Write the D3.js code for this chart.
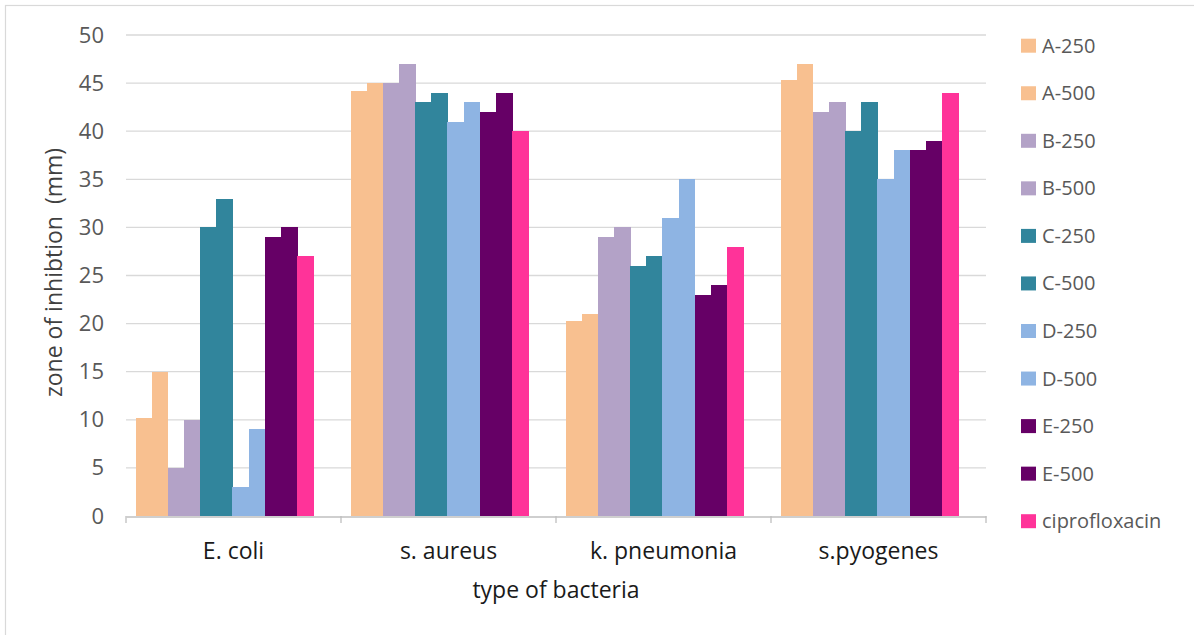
<!DOCTYPE html>
<html lang="en">
<head>
  <meta charset="UTF-8">
  <title>zone of inhibition</title>
  <script src="https://cdn.jsdelivr.net/npm/d3@7"></script>
  <style>
    body { margin: 0; background: #fff; }
    text { font-family: "Open Sans", sans-serif; }
  </style>
</head>
<body>
  <script>
    const bacteria = ["E. coli", "s. aureus", "k. pneumonia", "s.pyogenes"];
    const seriesNames = ["A-250", "A-500", "B-250", "B-500", "C-250", "C-500",
                         "D-250", "D-500", "E-250", "E-500", "ciprofloxacin"];
    const seriesColors = ["#f8c090", "#f8c090", "#b3a2c7", "#b3a2c7", "#31859c", "#31859c",
                          "#8eb4e3", "#8eb4e3", "#660066", "#660066", "#ff3399"];
    // one array per series, values in bacteria order
    const a250 = [10.2, 44.2, 20.3, 45.3];
    const a500 = [15, 45, 21, 47];
    const b250 = [5, 45, 29, 42];
    const b500 = [10, 47, 30, 43];
    const c250 = [30, 43, 26, 40];
    const c500 = [33, 44, 27, 43];
    const d250 = [3, 41, 31, 35];
    const d500 = [9, 43, 35, 38];
    const e250 = [29, 42, 23, 38];
    const e500 = [30, 44, 24, 39];
    const cipro = [27, 40, 28, 44];
    const yTicks = [0, 5, 10, 15, 20, 25, 30, 35, 40, 45, 50];

    const seriesValues = [a250, a500, b250, b500, c250, c500, d250, d500, e250, e500, cipro];
    const rows = [];
    bacteria.forEach((b, i) => {
      seriesNames.forEach((s, j) => {
        rows.push({ bacteria: b, series: s, value: seriesValues[j][i], color: seriesColors[j] });
      });
    });

    const w = 1194, h = 635;
    const plotLeft = 126, plotRight = 986, plotTop = 35, plotBottom = 516;

    const svg = d3.select("body").append("svg")
      .attr("width", w)
      .attr("height", h);

    // chart frame
    svg.append("rect")
      .attr("x", 5.5).attr("y", 5.5)
      .attr("width", 1250).attr("height", 700)
      .attr("fill", "none")
      .attr("stroke", "#d9d9d9")
      .attr("stroke-width", 1.2);

    const x0 = d3.scaleBand().domain(bacteria).range([plotLeft, plotRight]).padding(0);
    const x1 = d3.scaleBand().domain(seriesNames).range([9.5, 187.3]).padding(0);
    const y = d3.scaleLinear().domain([0, 50]).range([plotBottom, plotTop]);

    // gridlines
    svg.append("g")
      .selectAll("line")
      .data(yTicks.filter(d => d > 0))
      .enter().append("line")
      .attr("x1", plotLeft).attr("x2", plotRight)
      .attr("y1", d => y(d)).attr("y2", d => y(d))
      .attr("stroke", "#d9d9d9")
      .attr("stroke-width", 1.3);

    // bars
    svg.append("g")
      .attr("shape-rendering", "crispEdges")
      .selectAll("rect")
      .data(rows)
      .enter().append("rect")
      .attr("x", d => x0(d.bacteria) + x1(d.series))
      .attr("y", d => y(d.value))
      .attr("width", x1.bandwidth() + 0.5)
      .attr("height", d => y(0) - y(d.value))
      .attr("fill", d => d.color);

    // y axis labels
    const yAxis = d3.axisLeft(y).tickValues(yTicks).tickSize(0).tickPadding(0);
    const yg = svg.append("g")
      .attr("transform", "translate(104,0)")
      .call(yAxis);
    yg.select(".domain").remove();
    yg.selectAll("text")
      .attr("font-family", "Open Sans")
      .attr("font-size", 22)
      .attr("fill", "#595959");

    // x axis
    const xAxis = d3.axisBottom(x0).tickSize(0).tickPadding(0).tickFormat("");
    const xg = svg.append("g")
      .attr("transform", `translate(0,${plotBottom + 0.5})`)
      .call(xAxis);
    xg.select(".domain").attr("stroke", "#bfbfbf").attr("stroke-width", 1.3);

    const edges = bacteria.map(d => x0(d)).concat([plotRight]);
    svg.append("g")
      .selectAll("line")
      .data(edges)
      .enter().append("line")
      .attr("x1", d => d).attr("x2", d => d)
      .attr("y1", plotBottom)
      .attr("y2", plotBottom + 7)
      .attr("stroke", "#bfbfbf")
      .attr("stroke-width", 1.3);

    svg.append("g")
      .selectAll("text")
      .data(bacteria)
      .enter().append("text")
      .attr("x", d => x0(d) + x0.bandwidth() / 2)
      .attr("y", 559)
      .attr("text-anchor", "middle")
      .attr("font-size", 23)
      .attr("fill", "#1a1a1a")
      .text(d => d);

    // axis titles
    svg.append("text")
      .attr("x", (plotLeft + plotRight) / 2)
      .attr("y", 598)
      .attr("text-anchor", "middle")
      .attr("font-size", 23)
      .attr("fill", "#1a1a1a")
      .text("type of bacteria");

    svg.append("text")
      .attr("transform", `translate(62,${(plotTop + plotBottom) / 2 - 3}) rotate(-90)`)
      .attr("text-anchor", "middle")
      .attr("font-size", 23)
      .attr("fill", "#404040")
      .style("white-space", "pre")
      .text("zone of inhibtion  (mm)");

    // legend
    const legend = svg.append("g")
      .selectAll("g")
      .data(seriesNames)
      .enter().append("g")
      .attr("transform", (d, i) => `translate(1021,${45.7 + i * 47.55})`);

    legend.append("rect")
      .attr("x", 0).attr("y", -7)
      .attr("width", 15).attr("height", 14)
      .attr("fill", (d, i) => seriesColors[i]);

    legend.append("text")
      .attr("x", 21)
      .attr("y", 0)
      .attr("dy", "0.35em")
      .attr("font-size", 20)
      .attr("fill", "#595959")
      .text(d => d);
  </script>
</body>
</html>
